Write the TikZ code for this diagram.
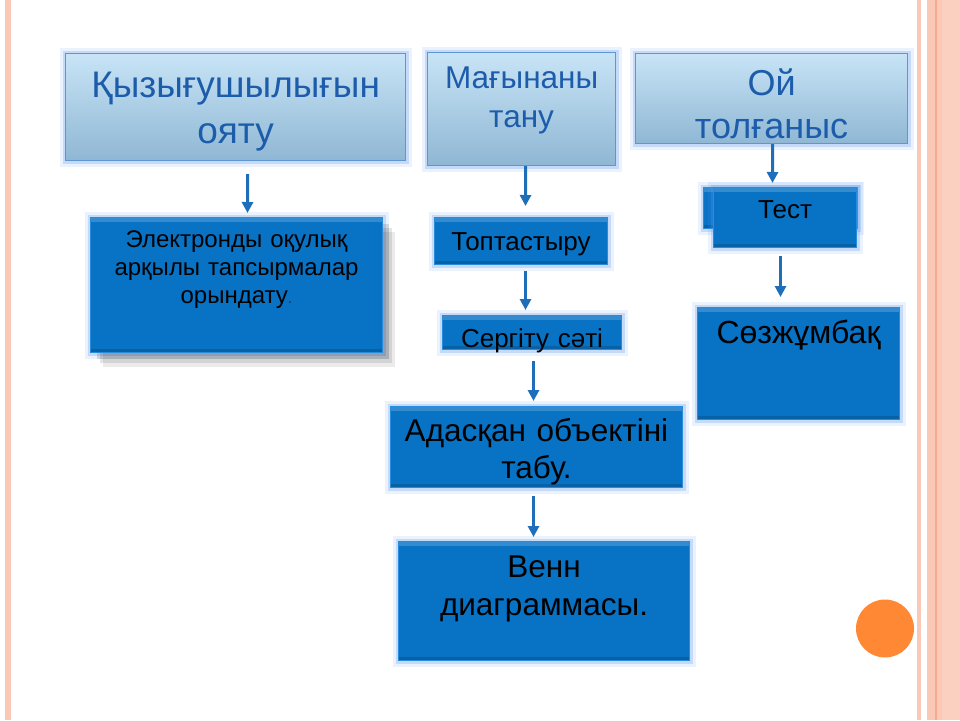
\documentclass[tikz,border=0pt]{standalone}
\usepackage{fontspec}
\setmainfont{Liberation Sans}
\usetikzlibrary{arrows.meta}
\usetikzlibrary{shadows}
\definecolor{boxblue}{RGB}{8,114,196}
\definecolor{stepedge}{RGB}{40,140,220}
\definecolor{lighttop}{RGB}{200,228,246}
\definecolor{lightbottom}{RGB}{143,183,212}
\definecolor{lightedge}{RGB}{95,150,205}
\definecolor{textblue}{RGB}{28,92,170}
\definecolor{arrowblue}{RGB}{30,110,185}
\definecolor{glowblue}{RGB}{90,150,240}
\definecolor{borderpink}{RGB}{250,200,182}
\definecolor{borderdark}{RGB}{244,170,140}
\definecolor{borderlight}{RGB}{252,208,192}
\definecolor{dotorange}{RGB}{255,136,52}
\tikzset{glow/.style={preaction={draw=glowblue, line width=12pt, opacity=0.12}, preaction={draw=glowblue, line width=6pt, opacity=0.25}}}
\tikzset{topbox/.style={glow, draw=lightedge, line width=1.2pt, top color=lighttop, bottom color=lightbottom, text=textblue, inner sep=0pt, align=center, anchor=north west}}
\tikzset{stepbox/.style={glow, draw=stepedge, line width=1pt, fill=boxblue, text=black, inner sep=0pt, align=center, anchor=north west,
  path picture={\fill[white, opacity=0.18] (path picture bounding box.north west) rectangle ([yshift=-4pt]path picture bounding box.north east);
    \fill[black, opacity=0.15] ([yshift=4pt]path picture bounding box.south west) rectangle (path picture bounding box.south east);}}}
\tikzset{softshadow/.style={drop shadow={shadow xshift=12pt, shadow yshift=-14pt, fill=black, opacity=0.08},
  drop shadow={shadow xshift=9pt, shadow yshift=-10pt, fill=black, opacity=0.1},
  drop shadow={shadow xshift=6pt, shadow yshift=-6pt, fill=black, opacity=0.12}}}
\tikzset{arr/.style={draw=arrowblue, line width=3pt, -{Triangle[length=11pt,width=11pt]}}}
\begin{document}
\begin{tikzpicture}[x=1pt, y=-1pt]

\fill[white] (0,0) rectangle (960,720);
\useasboundingbox (0,0) rectangle (960,720);

% page border strips
\fill[borderpink] (5,0) rectangle (11,720);
\fill[borderpink] (917,0) rectangle (921,720);
\fill[borderpink] (927,0) rectangle (942,720);
\fill[borderdark] (935,0) rectangle (937,720);
\fill[borderlight] (942,0) rectangle (960,720);
\fill[dotorange] (885,628.5) circle (29pt);

% top row
\node[topbox, text width=340pt, text height=44pt, text depth=63pt, font=\fontsize{37}{46}\selectfont] (kyzyg) at (65,53) {Қызығушылығын\\ояту};
\node[topbox, text width=188pt, text height=36pt, text depth=77pt, font=\fontsize{31.5}{39}\selectfont] (magyna) at (427,52) {Мағынаны\hspace*{10pt}\\тану};
\node[topbox, text width=272pt, text height=42pt, text depth=48pt, font=\fontsize{36}{43}\selectfont] (oi) at (635,53) {Ой\\толғаныс};

% left column
\node[stepbox, softshadow, text width=292pt, text height=30pt, text depth=105pt, font=\fontsize{24}{28}\selectfont] (elektron) at (90,217) {Электронды оқулық\\арқылы тапсырмалар\\орындату{\fontsize{16}{16}\selectfont\color{textblue!60!black}.}};

% middle column
\node[stepbox, text width=173pt, text height=33pt, text depth=14pt, font=\fontsize{26}{28}\selectfont] (topt) at (434,217) {Топтастыру};
\node[stepbox, text width=179pt, text height=32pt, text depth=2pt, font=\fontsize{26}{28}\selectfont] (sergitu) at (442,315) {Сергіту сәті};
\node[stepbox, text width=292pt, text height=35pt, text depth=46pt, font=\fontsize{31.5}{37}\selectfont] (adas) at (390,406) {Адасқан объектіні\\табу.};
\node[stepbox, text width=291pt, text height=36pt, text depth=83pt, font=\fontsize{31.5}{38}\selectfont] (venn) at (398,541) {Венн\\диаграммасы.};

% right column
\node[stepbox, minimum width=154pt, minimum height=41pt] (testback) at (703,187) {};
\node[stepbox, text width=143pt, text height=31pt, text depth=29pt, font=\fontsize{26}{28}\selectfont] (test) at (713,187) {Тест};
\node[stepbox, text width=202pt, text height=36pt, text depth=76pt, font=\fontsize{32}{37}\selectfont] (sozjum) at (697,307) {Сөзжұмбақ};

\draw[arr, shorten <=13pt, shorten >=4pt] ([xshift=12pt]kyzyg.south) -- ([xshift=11pt]elektron.north);
\draw[arr, shorten >=11pt] ([xshift=4pt]magyna.south) -- ([xshift=4.5pt]topt.north);
\draw[arr, shorten <=6pt, shorten >=5pt] ([xshift=4.5pt]topt.south) -- ([xshift=-6.5pt]sergitu.north);
\draw[arr, shorten <=11pt, shorten >=5pt] ([xshift=1.5pt]sergitu.south) -- ([xshift=-3pt]adas.north);
\draw[arr, shorten <=8pt, shorten >=4pt] ([xshift=-3pt]adas.south) -- ([xshift=-10.5pt]venn.north);
\draw[arr, shorten >=4pt] ([xshift=1pt]oi.south) -- ([xshift=-12.5pt]test.north);
\draw[arr, shorten <=8pt, shorten >=10pt] ([xshift=-4.5pt]test.south) -- ([xshift=-18pt]sozjum.north);

\end{tikzpicture}
\end{document}
